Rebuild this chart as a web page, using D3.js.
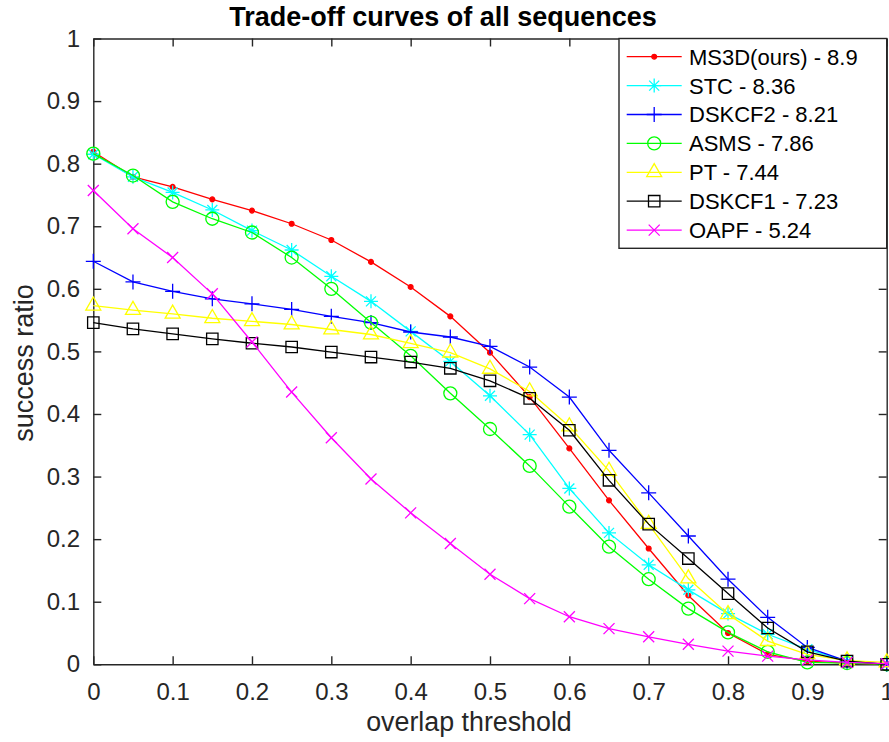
<!DOCTYPE html>
<html><head><meta charset="utf-8">
<script src="https://cdn.jsdelivr.net/npm/d3@7"></script>
<style>body{margin:0;background:#fff}svg{display:block}</style>
</head><body>
<script>
const thresholds = [0,0.05,0.1,0.15,0.2,0.25,0.3,0.35,0.4,0.45,0.5,0.55,0.6,0.65,0.7,0.75,0.8,0.85,0.9,0.95,1];
const seriesNames = ["MS3D(ours) - 8.9","STC - 8.36","DSKCF2 - 8.21","ASMS - 7.86","PT - 7.44","DSKCF1 - 7.23","OAPF - 5.24"];
const seriesColors = ["#ff0000","#00ffff","#0000ff","#00ff00","#ffff00","#000000","#ff00ff"];
const seriesMarkers = ["dot","asterisk","plus","circle","triangle","square","cross"];
const ms3d   = [0.819,0.779,0.763,0.743,0.725,0.704,0.678,0.643,0.603,0.556,0.498,0.427,0.345,0.262,0.185,0.110,0.050,0.016,0.005,0.002,0.000];
const stc    = [0.815,0.779,0.754,0.726,0.693,0.662,0.620,0.580,0.532,0.484,0.429,0.367,0.281,0.210,0.159,0.119,0.081,0.048,0.024,0.005,0.000];
const dskcf2 = [0.644,0.611,0.596,0.584,0.576,0.567,0.556,0.546,0.531,0.523,0.508,0.475,0.427,0.342,0.274,0.205,0.136,0.075,0.027,0.005,0.000];
const asms   = [0.816,0.781,0.739,0.712,0.690,0.650,0.600,0.546,0.493,0.433,0.376,0.317,0.252,0.188,0.136,0.089,0.051,0.020,0.003,0.002,0.000];
const pt     = [0.573,0.566,0.560,0.553,0.548,0.543,0.535,0.527,0.513,0.498,0.472,0.436,0.380,0.309,0.224,0.137,0.080,0.037,0.016,0.006,0.003];
const dskcf1 = [0.546,0.536,0.528,0.520,0.513,0.507,0.499,0.491,0.483,0.473,0.453,0.425,0.374,0.294,0.224,0.169,0.113,0.058,0.020,0.005,0.000];
const oapf   = [0.757,0.696,0.650,0.592,0.515,0.435,0.362,0.296,0.242,0.193,0.144,0.105,0.076,0.057,0.044,0.032,0.021,0.013,0.007,0.003,0.001];
const xTickValues = [0,0.1,0.2,0.3,0.4,0.5,0.6,0.7,0.8,0.9,1];
const xTickLabels = ["0","0.1","0.2","0.3","0.4","0.5","0.6","0.7","0.8","0.9","1"];
const yTickValues = [0,0.1,0.2,0.3,0.4,0.5,0.6,0.7,0.8,0.9,1];
const yTickLabels = ["0","0.1","0.2","0.3","0.4","0.5","0.6","0.7","0.8","0.9","1"];
const seriesValues = [ms3d, stc, dskcf2, asms, pt, dskcf1, oapf];

const W = 889, H = 742;
const L = 93.3, R = 886.7, T = 38.5, B = 664.3;
const axisColor = "#262626";
const font = "'Liberation Sans', Arial, Helvetica, sans-serif";

const svg = d3.select("body").append("svg").attr("width", W).attr("height", H)
  .style("font-family", font);
svg.append("rect").attr("width", W).attr("height", H).attr("fill", "#fff");

const x = d3.scaleLinear().domain([0,1]).range([L,R]);
const y = d3.scaleLinear().domain([0,1]).range([B,T]);

const fmtX = (d,i) => xTickLabels[i];
const fmtY = (d,i) => yTickLabels[i];
const gB = svg.append("g").attr("transform",`translate(0,${B})`)
  .call(d3.axisBottom(x).tickValues(xTickValues).tickFormat(fmtX).tickSizeInner(-8).tickSizeOuter(0).tickPadding(19));
const gL = svg.append("g").attr("transform",`translate(${L},0)`)
  .call(d3.axisLeft(y).tickValues(yTickValues).tickFormat(fmtY).tickSizeInner(-8).tickSizeOuter(0).tickPadding(13.3));
const gT = svg.append("g").attr("transform",`translate(0,${T})`)
  .call(d3.axisTop(x).tickValues(xTickValues).tickFormat("").tickSizeInner(-8).tickSizeOuter(0));
const gR = svg.append("g").attr("transform",`translate(${R},0)`)
  .call(d3.axisRight(y).tickValues(yTickValues).tickFormat("").tickSizeInner(-8).tickSizeOuter(0));
[gB,gL,gT,gR].forEach(g => {
  g.attr("font-family", font).attr("font-size", 24);
  g.selectAll("path.domain").attr("stroke", axisColor).attr("stroke-width", 1.4);
  g.selectAll(".tick line").attr("stroke", axisColor).attr("stroke-width", 1.4);
  g.selectAll(".tick text").attr("fill", axisColor);
});

function markerPath(type) {
  switch(type) {
    case "asterisk": return "M-7,0H7M0,-7V7M-5,-5L5,5M-5,5L5,-5";
    case "plus": return "M-7.5,0H7.5M0,-7.5V7.5";
    case "circle": return "M6.5,0A6.5,6.5,0,1,1,-6.5,0A6.5,6.5,0,1,1,6.5,0Z";
    case "triangle": return "M0,-8.7L7.5,4.35L-7.5,4.35Z";
    case "square": return "M-5.7,-5.7H5.7V5.7H-5.7Z";
    case "cross": return "M-5.5,-5.5L5.5,5.5M-5.5,5.5L5.5,-5.5";
    default: return "M2.4,0A2.4,2.4,0,1,1,-2.4,0A2.4,2.4,0,1,1,2.4,0Z";
  }
}
function drawMarker(g, type, color) {
  g.append("path").attr("d", markerPath(type))
    .attr("fill", type === "dot" ? color : "none")
    .attr("stroke", color).attr("stroke-width", 1.3);
}

const line = d3.line().x((d,i) => x(thresholds[i])).y(d => y(d));
const plot = svg.append("g");
seriesValues.forEach((vals, s) => {
  const g = plot.append("g");
  g.append("path").datum(vals).attr("d", line).attr("fill","none")
    .attr("stroke", seriesColors[s]).attr("stroke-width", 1.3);
  vals.forEach((v,i) => {
    const mg = g.append("g").attr("transform", `translate(${x(thresholds[i])},${y(v)})`);
    drawMarker(mg, seriesMarkers[s], seriesColors[s]);
  });
});

const lg = svg.append("g");
lg.append("rect").attr("x", 619).attr("y", T).attr("width", R - 619).attr("height", 248.3 - T)
  .attr("fill", "#fff").attr("stroke", axisColor).attr("stroke-width", 1.4);
seriesNames.forEach((name, s) => {
  const cy = 56.7 + s * 28.9;
  lg.append("line").attr("x1", 626.7).attr("x2", 681.7).attr("y1", cy).attr("y2", cy)
    .attr("stroke", seriesColors[s]).attr("stroke-width", 1.3);
  drawMarker(lg.append("g").attr("transform", `translate(654.2,${cy})`), seriesMarkers[s], seriesColors[s]);
  lg.append("text").attr("x", 689).attr("y", cy + 7.9).attr("font-size", 22)
    .attr("fill", "#000").text(name);
});

svg.append("text").attr("x", 443).attr("y", 25.5).attr("text-anchor","middle")
  .attr("font-size", 27).attr("font-weight","bold").attr("fill","#000")
  .text("Trade-off curves of all sequences");
svg.append("text").attr("x", 469).attr("y", 731).attr("text-anchor","middle")
  .attr("font-size", 26.8).attr("fill", axisColor).text("overlap threshold");
svg.append("text").attr("transform","translate(33.3,363) rotate(-90)").attr("text-anchor","middle")
  .attr("font-size", 27).attr("fill", axisColor).text("success ratio");
</script>
</body></html>
